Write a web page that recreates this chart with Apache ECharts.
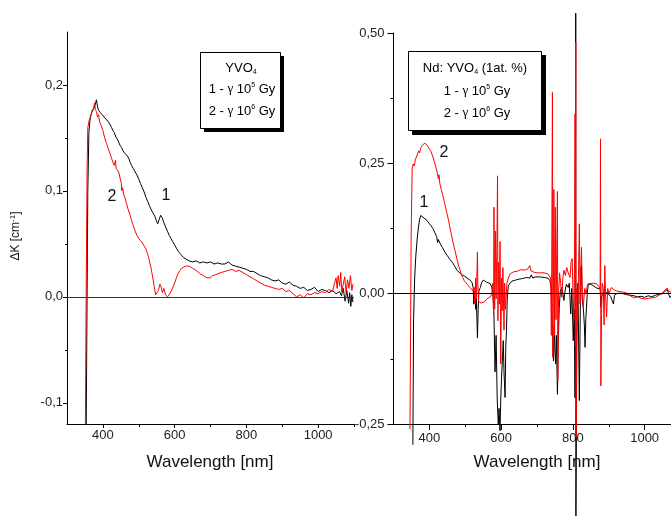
<!DOCTYPE html>
<html><head><meta charset="utf-8">
<script src="https://cdn.jsdelivr.net/npm/echarts@6/dist/echarts.min.js"></script>
<style>html,body{margin:0;padding:0;background:#fff}#c{width:671px;height:516px}</style>
</head><body><div id="c"></div><script>
const FONT = '"Liberation Sans", Arial, sans-serif';
const SERIF = '"Liberation Serif", "Times New Roman", serif';

// tick values / labels
const xMajorTicks = [400, 600, 800, 1000];
const xMinorTicks = [500, 700, 900, 1100];
const leftYMajor = [-0.1, 0, 0.1, 0.2];
const leftYMinor = [-0.05, 0.05, 0.15];
const rightYMajor = [-0.25, 0, 0.25, 0.5];
const rightYMinor = [-0.125, 0.125, 0.375];

// Left panel: YVO4, curve 1 (1e5 Gy, black)
const left1 = [[352,-0.20],[355,-0.05],[358,0.10],[361,0.155],[365,0.170],[370,0.175],[375,0.178],[379,0.182],[382,0.186],[385,0.180],[388,0.176],[393,0.174],[398,0.172],[403,0.171],[408,0.168],[413,0.167],[416,0.165],[420,0.166],[424,0.160],[428,0.157],[432,0.155],[436,0.151],[440,0.149],[444,0.146],[448,0.143],[452,0.141],[456,0.138],[460,0.136],[464,0.135],[468,0.133],[472,0.131],[476,0.127],[480,0.124],[485,0.121],[490,0.118],[495,0.115],[500,0.111],[505,0.107],[510,0.103],[515,0.099],[520,0.094],[525,0.090],[530,0.086],[535,0.082],[540,0.079],[545,0.076],[550,0.071],[553,0.069],[557,0.073],[561,0.077],[565,0.075],[570,0.070],[575,0.066],[580,0.062],[585,0.058],[590,0.055],[595,0.052],[600,0.049],[605,0.046],[610,0.043],[615,0.041],[620,0.039],[625,0.037],[630,0.036],[640,0.034],[650,0.033],[660,0.034],[670,0.032],[680,0.033],[690,0.032],[700,0.033],[710,0.031],[720,0.032],[730,0.031],[740,0.031],[750,0.033],[760,0.030],[770,0.029],[780,0.028],[790,0.027],[800,0.026],[810,0.024],[820,0.024],[830,0.022],[840,0.020],[850,0.019],[860,0.018],[870,0.016],[880,0.015],[890,0.016],[900,0.013],[910,0.012],[920,0.014],[930,0.011],[940,0.010],[950,0.008],[960,0.009],[970,0.006],[980,0.007],[990,0.009],[1000,0.005],[1010,0.007],[1020,0.006],[1030,0.004],[1040,0.006],[1050,0.003],[1060,0.005],[1065,0.001],[1070,0.008],[1075,-0.004],[1080,0.006],[1085,-0.006],[1088,0.004],[1091,-0.009],[1094,0.002],[1097,-0.005]];

// Left panel: curve 2 (1e6 Gy, red)
const left2 = [[350,-0.20],[353,-0.02],[356,0.120],[358,0.160],[362,0.167],[366,0.170],[370,0.176],[374,0.178],[377,0.183],[379,0.177],[382,0.175],[385,0.170],[388,0.172],[391,0.165],[395,0.162],[400,0.157],[405,0.150],[410,0.145],[415,0.140],[420,0.135],[424,0.131],[428,0.127],[432,0.124],[435,0.129],[437,0.121],[440,0.122],[444,0.118],[448,0.112],[451,0.108],[453,0.100],[455,0.103],[458,0.097],[462,0.093],[466,0.088],[470,0.083],[475,0.078],[480,0.072],[485,0.067],[490,0.062],[495,0.058],[500,0.055],[505,0.053],[510,0.051],[515,0.048],[519,0.046],[523,0.042],[527,0.038],[531,0.032],[535,0.026],[539,0.018],[543,0.010],[547,0.002],[551,0.001],[555,0.006],[559,0.012],[562,0.010],[566,0.004],[570,0.008],[575,0.002],[580,0.000],[585,0.002],[590,0.005],[595,0.009],[600,0.013],[605,0.018],[610,0.022],[615,0.025],[620,0.027],[625,0.028],[630,0.029],[635,0.028],[640,0.029],[645,0.028],[650,0.027],[655,0.026],[660,0.025],[665,0.024],[670,0.022],[675,0.021],[680,0.020],[685,0.019],[690,0.018],[695,0.019],[700,0.018],[705,0.020],[710,0.021],[715,0.021],[720,0.022],[730,0.023],[740,0.024],[750,0.025],[760,0.026],[770,0.024],[780,0.025],[790,0.023],[800,0.021],[810,0.019],[820,0.017],[830,0.015],[840,0.013],[850,0.011],[860,0.010],[870,0.009],[880,0.008],[890,0.007],[900,0.008],[910,0.005],[920,0.006],[930,0.003],[940,0.000],[950,0.002],[960,-0.001],[970,0.003],[980,0.002],[990,0.004],[1000,0.003],[1010,0.005],[1020,0.004],[1030,0.007],[1040,0.005],[1045,0.012],[1050,0.018],[1053,0.008],[1056,0.020],[1060,0.010],[1063,0.023],[1066,0.005],[1070,0.012],[1074,0.019],[1078,0.004],[1082,0.016],[1086,0.008],[1090,0.020],[1094,0.006],[1097,0.012]];

// Right panel: Nd:YVO4, curve 1 (black)
const right1 = [[354,-0.29],[356,-0.05],[359,0.03],[362,0.07],[366,0.105],[370,0.130],[373,0.143],[376,0.150],[380,0.148],[385,0.145],[390,0.143],[394,0.140],[400,0.134],[405,0.130],[410,0.125],[415,0.117],[420,0.110],[423,0.098],[425,0.104],[430,0.096],[436,0.089],[443,0.080],[450,0.073],[457,0.066],[464,0.060],[471,0.052],[478,0.044],[485,0.040],[490,0.036],[497,0.034],[505,0.030],[510,0.028],[515,0.025],[519,0.021],[522,0.012],[524,-0.020],[526,0.005],[529,-0.030],[531,-0.010],[534,-0.085],[536,-0.030],[538,0.005],[542,0.012],[546,0.022],[550,0.026],[555,0.024],[560,0.022],[565,0.020],[570,0.019],[574,0.012],[577,0.000],[580,-0.040],[583,-0.150],[586,-0.080],[589,-0.200],[592,-0.250],[594,-0.220],[597,-0.263],[599,-0.200],[602,-0.148],[604,-0.120],[606,-0.090],[608,-0.150],[611,-0.199],[613,-0.100],[615,-0.070],[617,-0.010],[620,0.015],[625,0.020],[630,0.024],[640,0.026],[650,0.028],[660,0.029],[670,0.031],[680,0.030],[684,0.036],[688,0.030],[695,0.032],[700,0.034],[710,0.032],[720,0.031],[730,0.030],[736,0.025],[740,0.010],[742,-0.058],[744,-0.10],[746,-0.129],[748,-0.060],[750,-0.110],[752,-0.135],[754,-0.080],[757,-0.193],[759,-0.100],[762,-0.026],[765,0.005],[769,0.012],[772,0.000],[775,-0.013],[778,0.005],[782,0.018],[787,0.012],[790,0.020],[794,-0.039],[797,0.010],[801,-0.090],[804,-0.030],[806,-0.20],[808,0.538],[808.4,-0.45],[811,-0.10],[814,0.020],[818,-0.205],[820,-0.070],[822,0.050],[824,0.054],[826,-0.010],[829,-0.026],[832,-0.060],[834,-0.103],[836,-0.050],[840,0.000],[843,0.019],[848,0.020],[853,0.017],[857,0.015],[863,0.012],[870,0.010],[876,0.009],[878,-0.026],[880,-0.005],[885,0.000],[890,0.003],[895,0.002],[900,0.001],[905,-0.005],[910,-0.008],[913,-0.020],[916,-0.003],[922,0.000],[930,0.001],[940,0.000],[950,-0.002],[960,-0.003],[970,-0.004],[980,-0.006],[990,-0.005],[1000,-0.007],[1010,-0.004],[1020,-0.006],[1030,-0.003],[1040,-0.001],[1050,0.000],[1056,0.004],[1060,0.006],[1063,0.008],[1066,0.002],[1070,-0.007],[1075,-0.005]];

// Right panel: curve 2 (red)
const right2 = [[346,-0.26],[349,0.10],[352,0.24],[355,0.249],[358,0.245],[361,0.258],[364,0.262],[367,0.268],[370,0.274],[373,0.270],[376,0.280],[380,0.284],[384,0.287],[387,0.289],[390,0.286],[395,0.283],[400,0.280],[405,0.272],[410,0.262],[414,0.253],[418,0.243],[422,0.232],[425,0.220],[427,0.228],[429,0.212],[433,0.200],[437,0.190],[441,0.178],[445,0.166],[449,0.154],[453,0.142],[457,0.128],[461,0.115],[465,0.101],[469,0.089],[473,0.078],[477,0.066],[481,0.055],[485,0.046],[489,0.038],[493,0.031],[497,0.025],[502,0.021],[507,0.016],[513,0.012],[518,0.010],[522,0.005],[525,0.012],[527,-0.020],[529,0.030],[531,-0.010],[533,0.050],[534,0.080],[535,0.020],[537,-0.015],[540,-0.012],[545,-0.018],[550,-0.020],[555,-0.015],[560,-0.010],[565,-0.008],[570,-0.006],[574,0.000],[577,0.020],[579,-0.040],[580,0.166],[582,-0.030],[584,0.120],[586,-0.010],[588,0.080],[590,0.226],[591,-0.052],[593,0.060],[595,-0.020],[597,0.100],[599,-0.135],[601,0.030],[603,-0.033],[605,0.050],[608,-0.070],[610,0.020],[612,-0.030],[614,-0.007],[616,0.020],[620,0.030],[625,0.038],[630,0.040],[635,0.042],[640,0.041],[645,0.043],[650,0.044],[655,0.046],[660,0.047],[665,0.045],[670,0.046],[675,0.048],[680,0.054],[683,0.044],[688,0.046],[692,0.041],[697,0.039],[700,0.040],[705,0.041],[710,0.040],[715,0.039],[720,0.040],[725,0.039],[730,0.038],[735,0.040],[738,0.030],[740,-0.080],[741,0.050],[743,0.386],[744,-0.122],[746,0.020],[747,0.200],[749,-0.080],[751,0.166],[753,-0.050],[755,0.080],[757,0.196],[758,-0.167],[760,0.000],[763,0.040],[766,0.020],[769,-0.007],[772,0.030],[775,0.045],[779,0.035],[783,0.050],[787,0.040],[792,0.031],[795,0.060],[798,0.067],[800,0.010],[803,-0.050],[805,0.100],[806,0.345],[807,-0.100],[808,0.482],[809,-0.276],[811,0.010],[813,-0.060],[816,0.050],[818,0.134],[820,-0.020],[822,0.040],[824,0.089],[826,0.010],[829,-0.026],[833,0.010],[837,0.000],[840,0.015],[843,0.019],[848,0.022],[853,0.020],[857,0.022],[862,0.020],[868,0.018],[873,0.015],[876,0.010],[877,0.297],[878,-0.177],[880,-0.040],[882,0.020],[885,0.010],[887,-0.060],[889,0.054],[891,0.000],[894,-0.045],[897,0.010],[901,0.000],[905,0.008],[908,0.012],[913,0.008],[917,0.006],[922,0.005],[930,0.004],[940,0.003],[950,0.001],[960,-0.004],[970,-0.008],[980,-0.006],[990,-0.009],[1000,-0.010],[1005,-0.012],[1010,-0.009],[1020,-0.008],[1030,-0.007],[1040,-0.003],[1050,0.002],[1056,0.006],[1060,0.009],[1063,0.011],[1066,0.005],[1070,0.008],[1075,0.002]];

const chart = echarts.init(document.getElementById('c'), null, {renderer: 'canvas'});

function xAx(grid, ticks, len, main, margin) {
  return {
    type: 'value', gridIndex: grid, min: 300, max: 1100, position: 'bottom', offset: 0,
    axisLine: {show: main, onZero: false, lineStyle: {color: '#000', width: 1}},
    axisTick: {show: true, customValues: ticks, length: len, lineStyle: {color: '#000', width: 1}},
    axisLabel: {show: main, customValues: ticks, margin: margin, fontSize: 13, fontFamily: FONT, color: '#222',
      formatter: v => String(Math.round(v))},
    splitLine: {show: false}
  };
}
function yAx(grid, min, max, ticks, len, main, margin, dec) {
  return {
    type: 'value', gridIndex: grid, min: min, max: max, position: 'left', offset: 0,
    axisLine: {show: main, onZero: false, lineStyle: {color: '#000', width: 1}},
    axisTick: {show: true, customValues: ticks, length: len, lineStyle: {color: '#000', width: 1}},
    axisLabel: {show: main, customValues: ticks, margin: margin, fontSize: 13, fontFamily: FONT, color: '#222',
      formatter: v => Number(v).toFixed(dec).replace('.', ',')},
    splitLine: {show: false}
  };
}
function ser(xi, yi, data, color, clip, zeroColor) {
  const s = {
    type: 'line', xAxisIndex: xi, yAxisIndex: yi, data: data, symbol: 'none', showSymbol: false,
    clip: clip, lineStyle: {color: color, width: 1}, itemStyle: {color: color},
    emphasis: {disabled: true}, silent: true, animation: false
  };
  if (zeroColor) {
    s.markLine = {silent: true, symbol: ['none', 'none'], animation: false, label: {show: false},
      lineStyle: {color: zeroColor, width: 1, type: 'solid'}, emphasis: {disabled: true},
      data: [{yAxis: 0}]};
  }
  return s;
}

const rich = {
  t: {fontSize: 13, fontFamily: FONT, fill: '#000', lineHeight: 15},
  g: {fontSize: 13, fontFamily: SERIF, fill: '#000', lineHeight: 15},
  sup: {fontSize: 7, fontFamily: FONT, fill: '#000', lineHeight: 9, verticalAlign: 'top'},
  sub: {fontSize: 7, fontFamily: FONT, fill: '#000', lineHeight: 6, verticalAlign: 'bottom'}
};
function txt(x, y, text) {
  return {type: 'text', x: x, y: y, z: 100, style: {text: text, rich: rich, align: 'center', verticalAlign: 'middle', fontSize: 13, fontFamily: FONT, fill: '#000'}};
}
function plain(x, y, text, size) {
  return {type: 'text', x: x, y: y, z: 100, style: {text: text, align: 'center', verticalAlign: 'middle', fontSize: size, fontFamily: FONT, fill: '#111'}};
}

chart.setOption({
  animation: false,
  backgroundColor: '#fff',
  grid: [
    {left: 67, top: 32, width: 287, height: 392, outerBoundsMode: 'none', containLabel: false},
    {left: 393.5, top: 33, width: 287, height: 391, outerBoundsMode: 'none', containLabel: false}
  ],
  xAxis: [
    xAx(0, xMajorTicks, 4, true, 5),
    xAx(0, xMinorTicks, 3, false, 5),
    xAx(1, xMajorTicks, 6, true, 8),
    xAx(1, xMinorTicks, 3, false, 8)
  ],
  yAxis: [
    yAx(0, -0.12, 0.25, leftYMajor, 4, true, 4, 1),
    yAx(0, -0.12, 0.25, leftYMinor, 2, false, 4, 1),
    yAx(1, -0.25, 0.5, rightYMajor, 6, true, 9, 2),
    yAx(1, -0.25, 0.5, rightYMinor, 3, false, 9, 2)
  ],
  series: [
    ser(0, 0, left1, '#000', true, null),
    ser(0, 0, left2, '#ff0000', true, '#333'),
    ser(2, 2, right1, '#000', false, null),
    ser(2, 2, right2, '#ff0000', false, '#000')
  ],
  graphic: [
    // left legend box
    {type: 'rect', z: 90, shape: {x: 204, y: 56, width: 80, height: 76}, style: {fill: '#000'}},
    {type: 'rect', z: 91, shape: {x: 200.5, y: 52.5, width: 80, height: 76}, style: {fill: '#fff', stroke: '#000', lineWidth: 1}},
    txt(241, 68, '{t|YVO}{sub|4}'),
    txt(242, 89, '{t|1 - }{g|γ}{t| 10}{sup|5}{t| Gy}'),
    txt(242, 111, '{t|2 - }{g|γ}{t| 10}{sup|6}{t| Gy}'),
    // right legend box
    {type: 'rect', z: 90, shape: {x: 412, y: 55, width: 134, height: 80}, style: {fill: '#000'}},
    {type: 'rect', z: 91, shape: {x: 408.5, y: 51.5, width: 133, height: 79}, style: {fill: '#fff', stroke: '#000', lineWidth: 1}},
    txt(475, 68, '{t|Nd: YVO}{sub|4}{t| (1at. %)}'),
    txt(477, 91, '{t|1 - }{g|γ}{t| 10}{sup|5}{t| Gy}'),
    txt(477, 113, '{t|2 - }{g|γ}{t| 10}{sup|6}{t| Gy}'),
    // curve labels
    plain(112, 197, '2', 16),
    plain(166, 196, '1', 16),
    plain(444, 153, '2', 16),
    plain(424, 203, '1', 16),
    // axis titles
    plain(210, 462, 'Wavelength [nm]', 17),
    plain(537, 462, 'Wavelength [nm]', 17),
    {type: 'text', x: 16, y: 236, rotation: Math.PI / 2, z: 100,
      style: {text: '{y|ΔK [cm}{ys|-1}{y|]}', align: 'center', verticalAlign: 'middle',
        rich: {y: {fontSize: 12, fontFamily: FONT, fill: '#111', lineHeight: 14},
               ys: {fontSize: 8, fontFamily: FONT, fill: '#111', lineHeight: 8, verticalAlign: 'top'}}}}
  ]
});
</script></body></html>
